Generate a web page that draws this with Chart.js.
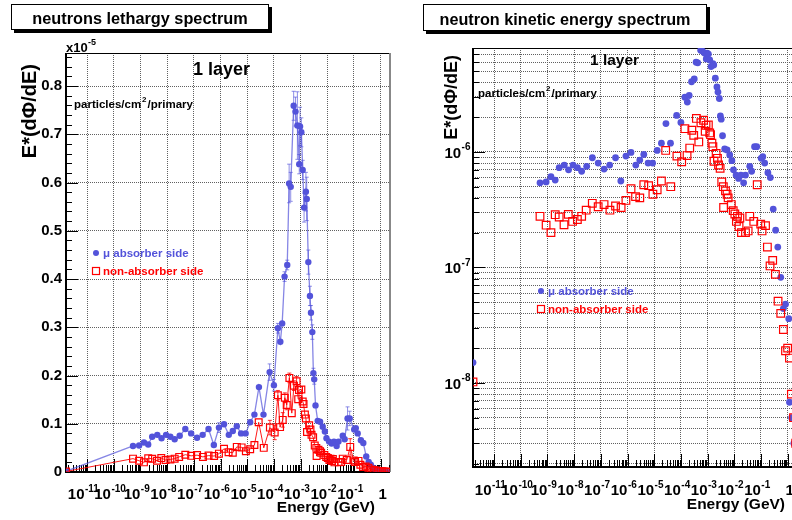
<!DOCTYPE html>
<html>
<head>
<meta charset="utf-8">
<script src="https://cdn.jsdelivr.net/npm/chart.js@4.4.0/dist/chart.umd.min.js"></script>
<style>
  body { margin: 0; width: 792px; height: 520px; overflow: hidden; background: #fff; position: relative; }
  canvas { position: absolute; top: 0; }
  #lethargy { left: 0; }
  #kinetic { left: 400px; }
</style>
</head>
<body>
<canvas id="lethargy" width="400" height="520"></canvas>
<canvas id="kinetic" width="440" height="520"></canvas>
<script>
// decade tick labels on the energy axis (exponents of 10, GeV)
const decades = [-11, -10, -9, -8, -7, -6, -5, -4, -3, -2, -1, 0];
const logDecadesY = [-9, -8, -7, -6];

// mu absorber side: energy (GeV), E*(dPhi/dE) and error
const absorberE = [
  1.62e-12, 5.25e-10, 8.9e-10, 1.35e-9, 1.95e-9, 2.75e-9, 4.27e-9, 6.17e-9, 9.1e-9, 1.32e-8,
  1.91e-8, 2.95e-8, 4.79e-8, 7.94e-8, 1.32e-7, 2.14e-7, 3.55e-7, 5.62e-7, 8.71e-7, 1.35e-6,
  2.04e-6, 2.88e-6, 4.07e-6, 5.89e-6, 8.71e-6, 1.29e-5, 1.86e-5, 2.75e-5, 4.07e-5, 6.92e-5,
  1.0e-4, 1.41e-4, 1.74e-4, 2.04e-4, 2.51e-4, 3.16e-4, 3.72e-4, 4.27e-4, 5.50e-4, 6.46e-4,
  7.59e-4, 8.91e-4, 9.55e-4, 1.07e-3, 1.20e-3, 1.35e-3, 1.58e-3, 1.70e-3, 1.95e-3, 2.24e-3,
  2.45e-3, 2.75e-3, 3.02e-3, 3.24e-3, 3.63e-3, 4.37e-3, 5.37e-3, 6.76e-3, 8.13e-3, 9.33e-3,
  1.17e-2, 1.45e-2, 1.78e-2, 2.24e-2, 2.63e-2, 3.80e-2, 4.47e-2, 5.75e-2, 6.92e-2, 0.102,
  0.117, 0.138, 0.182, 0.224, 0.288, 0.355, 0.427, 0.550, 0.692, 0.832,
  1.10, 1.17, 1.41, 1.70
];
const absorberFlux = [
  1.5e-8, 5.4e-7, 5.5e-7, 6.1e-7, 5.7e-7, 7.3e-7, 7.7e-7, 7.0e-7, 7.7e-7, 7.3e-7,
  6.8e-7, 7.5e-7, 8.9e-7, 8.0e-7, 7.1e-7, 7.7e-7, 8.9e-7, 5.6e-7, 9.2e-7, 9.9e-7,
  7.7e-7, 8.5e-7, 9.5e-7, 8.0e-7, 8.0e-7, 1.03e-6, 1.19e-6, 1.76e-6, 1.19e-6, 2.07e-6,
  1.80e-6, 2.98e-6, 2.70e-6, 3.08e-6, 4.05e-6, 4.29e-6, 5.98e-6, 5.91e-6, 7.59e-6, 7.47e-6,
  7.18e-6, 6.38e-6, 7.16e-6, 7.04e-6, 6.26e-6, 5.48e-6, 5.81e-6, 5.66e-6, 4.35e-6, 3.65e-6,
  3.30e-6, 2.90e-6, 2.05e-6, 1.92e-6, 1.38e-6, 1.06e-6, 1.04e-6, 9.4e-7, 8.4e-7, 7.0e-7,
  6.3e-7, 5.9e-7, 6.3e-7, 5.4e-7, 6.3e-7, 7.5e-7, 6.8e-7, 1.11e-6, 1.11e-6, 8.8e-7,
  9.1e-7, 8.0e-7, 6.6e-7, 6.0e-7, 3.2e-7, 2.1e-7, 1.5e-7, 8.2e-8, 4.4e-8, 4.8e-8,
  3.6e-8, 6.8e-9, 5e-9, 3e-9
];
const absorberErr = [
  0, 3e-8, 3e-8, 3e-8, 3e-8, 3e-8, 3e-8, 3e-8, 3e-8, 3e-8,
  3e-8, 3e-8, 3e-8, 3e-8, 3e-8, 3e-8, 3e-8, 3e-8, 1.0e-7, 7e-8,
  5e-8, 5e-8, 5e-8, 5e-8, 5e-8, 5e-8, 5e-8, 8e-8, 6e-8, 1.7e-7,
  1.2e-7, 1.0e-7, 8e-8, 6e-8, 1.0e-7, 1.0e-7, 4e-7, 3e-7, 3e-7, 3e-7,
  7e-7, 2e-7, 4e-7, 3e-7, 2e-7, 3e-7, 4e-7, 4.5e-7, 2.5e-7, 2e-7,
  1.5e-7, 1.5e-7, 1e-7, 1e-7, 8e-8, 5e-8, 5e-8, 5e-8, 5e-8, 5e-8,
  5e-8, 5e-8, 5e-8, 5e-8, 5e-8, 5e-8, 5e-8, 2.4e-7, 1.5e-7, 4e-8,
  4e-8, 4e-8, 4e-8, 4e-8, 4e-8, 4e-8, 3e-8, 2e-8, 1e-8, 1e-8,
  1e-8, 5e-9, 5e-9, 5e-9
];

// non-absorber side
const openE = [
  1.62e-12, 5.25e-10, 8.9e-10, 1.35e-9, 1.95e-9, 2.75e-9, 4.17e-9, 6.03e-9, 8.71e-9, 1.32e-8,
  1.91e-8, 2.82e-8, 4.79e-8, 7.94e-8, 1.32e-7, 2.19e-7, 3.55e-7, 5.75e-7, 8.71e-7, 1.35e-6,
  2.0e-6, 2.88e-6, 4.07e-6, 6.17e-6, 8.91e-6, 1.29e-5, 1.86e-5, 2.69e-5, 4.17e-5, 7.08e-5,
  1.07e-4, 1.41e-4, 1.70e-4, 2.14e-4, 2.57e-4, 3.02e-4, 3.80e-4, 4.68e-4, 5.62e-4, 7.08e-4,
  8.13e-4, 8.71e-4, 1.07e-3, 1.20e-3, 1.29e-3, 1.45e-3, 1.58e-3, 1.74e-3, 2.09e-3, 2.34e-3,
  2.57e-3, 2.95e-3, 3.39e-3, 3.89e-3, 3.98e-3, 4.68e-3, 5.37e-3, 5.89e-3, 7.76e-3, 9.12e-3,
  1.05e-2, 1.20e-2, 1.32e-2, 1.51e-2, 1.62e-2, 1.86e-2, 2.63e-2, 3.31e-2, 3.80e-2, 5.37e-2,
  7.24e-2, 9.77e-2, 0.110, 0.148, 0.174, 0.219, 0.275, 0.347, 0.437, 0.550,
  0.692, 0.832, 1.0, 1.17, 1.38, 1.66, 2.0
];
const openFlux = [
  1.02e-8, 2.77e-7, 2.32e-7, 2.0e-7, 2.86e-7, 2.73e-7, 2.34e-7, 2.88e-7, 2.5e-7, 2.6e-7,
  2.77e-7, 3.13e-7, 3.59e-7, 3.35e-7, 3.5e-7, 3.13e-7, 3.4e-7, 3.3e-7, 3.8e-7, 4.8e-7,
  4.1e-7, 4.0e-7, 5.2e-7, 5.1e-7, 4.3e-7, 4.7e-7, 5.6e-7, 1.03e-6, 5.0e-7, 9.2e-7,
  8.2e-7, 1.59e-6, 9.3e-7, 1.08e-6, 1.54e-6, 1.39e-6, 1.95e-6, 1.22e-6, 1.79e-6, 1.88e-6,
  1.51e-6, 1.70e-6, 1.71e-6, 1.46e-6, 1.41e-6, 1.19e-6, 1.11e-6, 8.3e-7, 9.7e-7, 8.8e-7,
  7.7e-7, 7.2e-7, 5.5e-7, 5.0e-7, 3.3e-7, 4.6e-7, 4.3e-7, 4.0e-7, 3.5e-7, 3.1e-7,
  2.9e-7, 2.5e-7, 2.77e-7, 2.26e-7, 2.68e-7, 2.0e-7, 2.0e-7, 2.07e-7, 2.77e-7, 2.5e-7,
  5.2e-7, 2.37e-7, 2.07e-7, 2.3e-7, 1.5e-7, 1.03e-7, 1.15e-7, 8.7e-8, 5.1e-8, 4.0e-8,
  2.9e-8, 1.9e-8, 2.0e-8, 1.64e-8, 8.0e-9, 5e-9, 3e-9
];
const openErr = [
  0, 2e-8, 2e-8, 2e-8, 2e-8, 2e-8, 2e-8, 2e-8, 2e-8, 2e-8,
  2e-8, 2e-8, 2e-8, 2e-8, 2e-8, 2e-8, 2e-8, 2e-8, 2e-8, 2e-8,
  2e-8, 2e-8, 2e-8, 2e-8, 2e-8, 2e-8, 2e-8, 6e-8, 4e-8, 1.5e-7,
  1.5e-7, 1.0e-7, 8e-8, 1.5e-7, 1e-7, 1e-7, 1e-7, 8e-8, 1e-7, 1e-7,
  6e-8, 6e-8, 6e-8, 6e-8, 6e-8, 6e-8, 6e-8, 6e-8, 6e-8, 6e-8,
  6e-8, 3e-8, 3e-8, 3e-8, 3e-8, 3e-8, 3e-8, 3e-8, 3e-8, 3e-8,
  3e-8, 3e-8, 3e-8, 3e-8, 3e-8, 3e-8, 3e-8, 3e-8, 3e-8, 3e-8,
  1.7e-7, 2e-8, 2e-8, 2e-8, 2e-8, 2e-8, 2e-8, 2e-8, 2e-8, 2e-8,
  2e-8, 1e-8, 1e-8, 5e-9, 3e-9, 3e-9, 3e-9
];

const BLUE = '#5353da';
const BLUE_LINE = 'rgba(83,83,218,0.7)';
const RED = '#ff0000';
const FONT = '"Liberation Sans", Arial, Helvetica, sans-serif';
const E_MIN = 1.62e-12, E_MAX = 2.24;

function pts(xs, ys) {
  return xs.map((x, i) => ({ x: x, y: ys[i] }));
}

// "10" with a raised exponent, centred (or right aligned) on x
function powText(ctx, x, y, exp, big, small, align) {
  ctx.save();
  ctx.textBaseline = 'alphabetic';
  ctx.textAlign = 'left';
  ctx.font = 'bold ' + big + 'px ' + FONT;
  const base = exp === 0 ? '1' : '10';
  const w1 = ctx.measureText(base).width;
  let w2 = 0, sup = '';
  if (exp !== 0) {
    sup = String(exp);
    ctx.font = 'bold ' + small + 'px ' + FONT;
    w2 = ctx.measureText(sup).width;
  }
  const w = w1 + w2;
  const x0 = align === 'right' ? x - w : x - w / 2;
  ctx.font = 'bold ' + big + 'px ' + FONT;
  ctx.fillText(base, x0, y);
  if (sup) {
    ctx.font = 'bold ' + small + 'px ' + FONT;
    ctx.fillText(sup, x0 + w1 + 0.5, y - big * 0.5);
  }
  ctx.restore();
}

function titleBox(ctx, x, y, w, h, text, size, baseline) {
  ctx.save();
  ctx.fillStyle = '#000';
  ctx.fillRect(x + 3, y + 3, w, h);
  ctx.fillStyle = '#fff';
  ctx.fillRect(x, y, w, h);
  ctx.strokeStyle = '#000';
  ctx.lineWidth = 1;
  ctx.strokeRect(x + 0.5, y + 0.5, w - 1, h - 1);
  ctx.fillStyle = '#000';
  ctx.font = 'bold ' + size + 'px ' + FONT;
  ctx.textAlign = 'center';
  ctx.textBaseline = 'alphabetic';
  ctx.fillText(text, x + w / 2, baseline);
  ctx.restore();
}

function boldText(ctx, text, x, y, size, align, color) {
  ctx.save();
  ctx.font = 'bold ' + size + 'px ' + FONT;
  ctx.textAlign = align || 'left';
  ctx.textBaseline = 'alphabetic';
  ctx.fillStyle = color || '#000';
  ctx.fillText(text, x, y);
  ctx.restore();
}

function unitsText(ctx, x, y, size) {
  ctx.save();
  ctx.fillStyle = '#000';
  ctx.textBaseline = 'alphabetic';
  ctx.font = 'bold ' + size + 'px ' + FONT;
  const a = 'particles/cm';
  ctx.fillText(a, x, y);
  let cx = x + ctx.measureText(a).width + 1;
  ctx.font = 'bold ' + Math.round(size * 0.7) + 'px ' + FONT;
  ctx.fillText('2', cx, y - size * 0.55);
  cx += ctx.measureText('2').width + 1;
  ctx.font = 'bold ' + size + 'px ' + FONT;
  ctx.fillText('/primary', cx, y);
  ctx.restore();
}

function yTitle(ctx, x, yEnd, size) {
  ctx.save();
  ctx.translate(x, yEnd);
  ctx.rotate(-Math.PI / 2);
  ctx.font = 'bold ' + size + 'px ' + FONT;
  ctx.textAlign = 'right';
  ctx.textBaseline = 'middle';
  ctx.fillStyle = '#000';
  ctx.fillText('E*(d\u03A6/dE)', 0, 0);
  ctx.restore();
}

function legend(ctx, x, y1, y2, size, dotR, sq) {
  ctx.save();
  ctx.fillStyle = BLUE;
  ctx.beginPath();
  ctx.arc(x, y1, dotR, 0, Math.PI * 2);
  ctx.fill();
  ctx.strokeStyle = RED;
  ctx.lineWidth = 1.2;
  ctx.strokeRect(x - sq / 2, y2 - sq / 2, sq, sq);
  ctx.restore();
  boldText(ctx, '\u03BC absorber side', x + 7, y1 + size * 0.36, size, 'left', BLUE);
  boldText(ctx, 'non-absorber side', x + 7, y2 + size * 0.36, size, 'left', RED);
}

// frame, grid ticks pointing inwards on the bottom and left axes
function frameAndTicks(chart, yLog) {
  const ctx = chart.ctx, a = chart.chartArea;
  const xs = chart.scales.x, ys = chart.scales.y;
  ctx.save();
  ctx.strokeStyle = '#000';
  ctx.lineWidth = 1;
  ctx.strokeRect(a.left + 0.5, a.top + 0.5, a.right - a.left - 1, a.bottom - a.top - 1);
  ctx.lineWidth = 2;
  ctx.beginPath();
  ctx.moveTo(a.left, a.top); ctx.lineTo(a.left, a.bottom); ctx.lineTo(a.right, a.bottom);
  ctx.stroke();
  if (!yLog) {
    ctx.strokeStyle = '#888';
    ctx.beginPath();
    ctx.moveTo(a.right, a.top); ctx.lineTo(a.right, a.bottom);
    ctx.stroke();
    ctx.strokeStyle = '#000';
  }
  ctx.lineWidth = 1;
  ctx.beginPath();
  for (let k = -12; k <= 0; k++) {
    for (let m = 1; m <= 9; m++) {
      const v = m * Math.pow(10, k);
      if (v < E_MIN || v > E_MAX) continue;
      const px = Math.round(xs.getPixelForValue(v)) + 0.5;
      const len = m === 1 ? 13 : 7;
      ctx.moveTo(px, a.bottom); ctx.lineTo(px, a.bottom - len);
    }
  }
  if (yLog) {
    for (const k of logDecadesY) {
      for (let m = 1; m <= 9; m++) {
        const v = m * Math.pow(10, k);
        if (v < ys.min || v > ys.max) continue;
        const py = Math.round(ys.getPixelForValue(v)) + 0.5;
        ctx.moveTo(a.left, py); ctx.lineTo(a.left + (m === 1 ? 12 : 6), py);
      }
    }
  } else {
    for (let i = 0; i * 2e-7 <= ys.max; i++) {
      const py = Math.round(ys.getPixelForValue(i * 2e-7)) + 0.5;
      ctx.moveTo(a.left, py); ctx.lineTo(a.left + (i % 5 === 0 ? 12 : 6), py);
    }
  }
  ctx.stroke();
  ctx.restore();
}

function xLabels(chart, y) {
  const ctx = chart.ctx, xs = chart.scales.x;
  ctx.fillStyle = '#000';
  for (const k of decades) {
    const px = xs.getPixelForValue(Math.pow(10, k));
    powText(ctx, k === 0 ? px + 2 : px - 4, y, k, 15, 10, 'center');
  }
}

function errorBars(chart) {
  const ctx = chart.ctx, xs = chart.scales.x, ys = chart.scales.y;
  ctx.save();
  chart.data.datasets.forEach(ds => {
    if (!ds.errors) return;
    ctx.strokeStyle = ds.errColor;
    ctx.lineWidth = 1;
    ctx.beginPath();
    ds.data.forEach((p, i) => {
      const e = ds.errors[i];
      if (!e) return;
      const px = xs.getPixelForValue(p.x);
      const hi = ys.getPixelForValue(p.y + e);
      const lo = ys.getPixelForValue(Math.max(p.y - e, 0));
      if (lo - hi < 8) return;
      ctx.moveTo(px, hi); ctx.lineTo(px, lo);
      ctx.moveTo(px - 2, hi); ctx.lineTo(px + 2, hi);
      ctx.moveTo(px - 2, lo); ctx.lineTo(px + 2, lo);
    });
    ctx.stroke();
  });
  ctx.restore();
}

function gridOpts() {
  return { color: '#606060', lineWidth: 1, drawTicks: false };
}

function xScale() {
  return {
    type: 'logarithmic', min: E_MIN, max: E_MAX,
    grid: gridOpts(),
    border: { display: false, dash: [1, 1] },
    ticks: { display: false },
    afterBuildTicks: s => { s.ticks = decades.map(k => ({ value: Math.pow(10, k) })); }
  };
}

// left panel: lethargy spectrum, linear scale in units of 1e-5
const lethargyPlugin = {
  id: 'lethargyDecor',
  beforeDatasetsDraw(chart) {
    frameAndTicks(chart, false);
    errorBars(chart);
  },
  afterDraw(chart) {
    const ctx = chart.ctx;
    titleBox(ctx, 11, 4, 258, 26, 'neutrons lethargy spectrum', 16.3, 24);
    xLabels(chart, 499);
    boldText(ctx, 'Energy (GeV)', 375, 512, 15.5, 'right');
    yTitle(ctx, 30, 64, 20);
    boldText(ctx, 'x10', 66, 52, 13);
    boldText(ctx, '-5', 88, 45, 9);
    boldText(ctx, '1 layer', 193, 75, 18);
    unitsText(ctx, 74, 108, 11.5);
    legend(ctx, 96, 253, 271, 11.5, 3, 7);
  }
};

new Chart(document.getElementById('lethargy'), {
  type: 'scatter',
  data: {
    datasets: [{
      label: 'non-absorber side',
      data: pts(openE, openFlux),
      errors: openErr, errColor: 'rgba(255,0,0,0.8)',
      showLine: true, borderColor: 'rgba(255,0,0,0.9)', borderWidth: 1,
      pointStyle: 'rect', pointRadius: 4.8, pointBorderWidth: 1.2,
      pointBorderColor: RED, pointBackgroundColor: 'rgba(0,0,0,0)'
    }, {
      label: '\u03BC absorber side',
      data: pts(absorberE, absorberFlux),
      errors: absorberErr, errColor: 'rgba(83,83,218,0.65)',
      showLine: true, borderColor: BLUE_LINE, borderWidth: 1.3,
      pointStyle: 'circle', pointRadius: 3.2, pointBorderWidth: 0,
      pointBackgroundColor: BLUE
    }]
  },
  options: {
    responsive: false, animation: false, events: [],
    layout: { padding: { left: 0, top: 53, right: 10, bottom: 0 } },
    plugins: { legend: { display: false }, tooltip: { enabled: false } },
    scales: {
      x: Object.assign(xScale(), { afterFit: s => { s.height = 48; } }),
      y: {
        type: 'linear', min: 0, max: 8.684e-6,
        grid: gridOpts(),
        border: { display: false, dash: [1, 1] },
        afterBuildTicks: s => { s.ticks = [0, 1e-6, 2e-6, 3e-6, 4e-6, 5e-6, 6e-6, 7e-6, 8e-6].map(v => ({ value: v })); },
        afterFit: s => { s.width = 66; },
        ticks: {
          padding: 4, color: '#000',
          font: { family: FONT, size: 15, weight: 'bold' },
          callback: v => v === 0 ? '0' : (v / 1e-5).toFixed(1)
        }
      }
    }
  },
  plugins: [lethargyPlugin]
});

// right panel: kinetic energy spectrum, log scale
const kineticPlugin = {
  id: 'kineticDecor',
  beforeDatasetsDraw(chart) {
    frameAndTicks(chart, true);
  },
  afterDraw(chart) {
    const ctx = chart.ctx, ys = chart.scales.y;
    titleBox(ctx, 23, 4, 284, 27, 'neutron kinetic energy spectrum', 16.2, 25);
    xLabels(chart, 495);
    ctx.fillStyle = '#000';
    for (const k of logDecadesY) {
      const v = Math.pow(10, k);
      if (v < ys.min || v > ys.max) continue;
      powText(ctx, 70, ys.getPixelForValue(v) + 6, k, 15, 10, 'right');
    }
    boldText(ctx, 'Energy (GeV)', 385, 509, 15.5, 'right');
    yTitle(ctx, 52, 55, 18);
    boldText(ctx, '1 layer', 190, 65, 15.5);
    unitsText(ctx, 78, 97, 11.5);
    legend(ctx, 141, 291, 309, 11.5, 3, 7);
  }
};

new Chart(document.getElementById('kinetic'), {
  type: 'scatter',
  data: {
    datasets: [{
      label: 'non-absorber side',
      data: pts(openE, openFlux),
      pointStyle: 'rect', pointRadius: 5.4, pointBorderWidth: 1.2,
      pointBorderColor: RED, pointBackgroundColor: 'rgba(0,0,0,0)'
    }, {
      label: '\u03BC absorber side',
      data: pts(absorberE, absorberFlux),
      pointStyle: 'circle', pointRadius: 3.4, pointBorderWidth: 0,
      pointBackgroundColor: BLUE
    }]
  },
  options: {
    responsive: false, animation: false, events: [],
    layout: { padding: { left: 0, top: 48, right: 43, bottom: 0 } },
    plugins: { legend: { display: false }, tooltip: { enabled: false } },
    scales: {
      x: Object.assign(xScale(), { afterFit: s => { s.height = 53; } }),
      y: {
        type: 'logarithmic', min: 1.87e-9, max: 7.94e-6,
        grid: gridOpts(),
        border: { display: false, dash: [1, 1] },
        ticks: { display: false },
        afterBuildTicks: s => {
          const t = [];
          for (const k of logDecadesY) {
            for (let m = 1; m <= 9; m++) {
              const v = m * Math.pow(10, k);
              if (v >= s.min && v <= s.max) t.push({ value: v });
            }
          }
          s.ticks = t;
        },
        afterFit: s => { s.width = 73; }
      }
    }
  },
  plugins: [kineticPlugin]
});
</script>
</body>
</html>
